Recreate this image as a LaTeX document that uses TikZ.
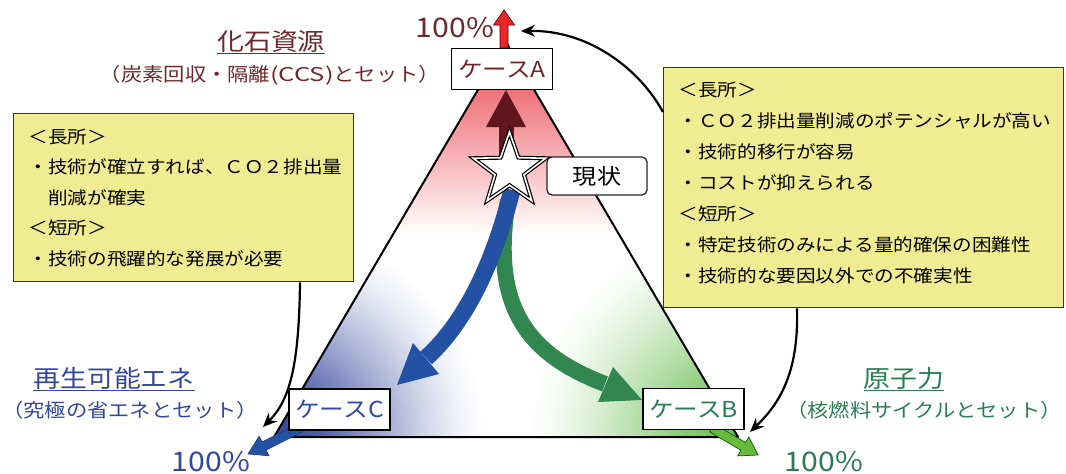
\documentclass[tikz,border=0pt]{standalone}
\usepackage{fontspec}
\setmainfont[FakeStretch=1.12]{Noto Sans CJK JP}
\usetikzlibrary{arrows.meta,shapes.geometric,calc}
\definecolor{fossil}{RGB}{110,40,45}
\definecolor{renew}{RGB}{50,70,160}
\definecolor{nuke}{RGB}{40,125,85}
\definecolor{boxy}{RGB}{240,236,145}
\definecolor{arrA}{RGB}{95,22,28}
\definecolor{arrB}{RGB}{50,135,80}
\definecolor{arrC}{RGB}{35,82,165}
\definecolor{shadeR}{RGB}{235,85,95}
\definecolor{shadeB}{RGB}{45,65,155}
\definecolor{shadeG}{RGB}{105,190,80}
\definecolor{exitR}{RGB}{230,40,40}
\definecolor{exitG}{RGB}{105,185,60}
\pgfdeclareradialshading{glowB}{\pgfpoint{0bp}{0bp}}{color(0bp)=(shadeB); color(6bp)=(shadeB!82!white); color(12bp)=(shadeB!50!white); color(18bp)=(shadeB!22!white); color(22bp)=(shadeB!7!white); color(25bp)=(white); color(50bp)=(white)}
\pgfdeclareradialshading{glowG}{\pgfpoint{0bp}{0bp}}{color(0bp)=(shadeG); color(6bp)=(shadeG!82!white); color(12bp)=(shadeG!50!white); color(18bp)=(shadeG!22!white); color(22bp)=(shadeG!7!white); color(25bp)=(white); color(50bp)=(white)}
\begin{document}
\begin{tikzpicture}[x=1pt,y=-1pt,
  casebox/.style={draw=black, fill=white, line width=1.4pt, minimum width=101pt, minimum height=41pt, inner sep=1pt, font=\fontsize{22}{22}\selectfont},
  notebox/.style={draw=black!80, fill=boxy, line width=1.4pt, anchor=north west, align=left, inner xsep=15pt, inner ysep=0pt},
  conn/.style={black, line width=2.2pt, -{Stealth[length=14pt,width=12pt]}},
  title/.style={font=\fontsize{24}{24}\selectfont},
  subtitle/.style={font=\fontsize{19}{19}\selectfont},
  pct/.style={font=\fontsize{27}{27}\selectfont},
]
\useasboundingbox (0,0) rectangle (1066,474);

% triangle with shading
\coordinate (apex) at (506,42);
\coordinate (bl) at (274,437);
\coordinate (br) at (738,437);
\fill[white] (apex)--(bl)--(br)--cycle;
\begin{scope}
  \clip (apex)--(bl)--(br)--cycle;
  \shade[top color=shadeR, bottom color=white, blend mode=multiply] (260,60) rectangle (760,235);
  \shade[shading=glowB, blend mode=multiply] (bl) circle[radius=210pt];
  \shade[shading=glowG, blend mode=multiply] (br) circle[radius=210pt];
\end{scope}
\draw[line width=2pt, line join=round] (apex)--(bl)--(br)--cycle;

% exit arrows
\filldraw[fill=exitR, draw=black!60!red, line width=0.7pt] (500,48)--(500,25)--(493.5,25)--(504,10)--(514.5,25)--(508,25)--(508,48)--cycle;
\filldraw[fill=arrC, draw=arrC!70!black, line width=0.6pt] (298.0,424.0)--(262.1,441.9)--(259.2,436.1)--(248,454)--(269.0,455.8)--(266.1,450.0)--(302.0,432.0)--cycle;
\filldraw[fill=exitG, draw=black!60!green, line width=0.7pt] (714.3,424.1)--(745.6,442.5)--(748.9,436.9)--(758,455)--(737.7,455.9)--(741.0,450.3)--(709.7,431.9)--cycle;

% main arrows
\coordinate (gs) at (508,200);
\coordinate (gb) at (605,384);
\draw[arrB, line width=16pt] (gs) .. controls (490,310) and (530,355) .. (gb);
\fill[arrB] (642,400) -- (613,367) -- (598,402) -- cycle;
\coordinate (bs) at (512,190);
\coordinate (bb) at (426,358);
\draw[arrC, line width=17pt] (bs) .. controls (494,262) and (466,322) .. (bb);
\fill[arrC] (397,385) -- (413,343) -- (439,374) -- cycle;
\coordinate (as) at (506,165);
\coordinate (ab) at (506,126);
\draw[arrA, line width=15pt] (as) -- (ab);
\fill[arrA] (506,90) -- (486,127) -- (526,127) -- cycle;

% star
\node[star, star points=5, star point ratio=2.5, minimum size=76pt, inner sep=0pt, fill=white, draw=black, line width=1.2pt, double=white, double distance=1.6pt] (star) at (509.5,170) {};

% case boxes
\node[casebox, text=fossil] (caseA) at (502,69) {ケースA};
\node[casebox, text=renew] (caseC) at (339.5,409.5) {ケースC};
\node[casebox, text=nuke] (caseB) at (693.5,409) {ケースB};
\node[draw=black!85, fill=white, rounded corners=5pt, line width=1.3pt, minimum width=100pt, minimum height=38pt, font=\fontsize{21.5}{21.5}\selectfont] (now) at (597,176) {現状};

% note boxes
\node[notebox, text width=310pt, minimum height=168pt, font=\fontsize{17.5}{30.5}\selectfont] (lbox) at (13,113)
  {＜長所＞\\・技術が確立すれば、ＣＯ２排出量\\　削減が確実\\＜短所＞\\・技術の飛躍的な発展が必要};
\node[notebox, text width=370pt, minimum height=240pt, font=\fontsize{17.5}{31}\selectfont] (rbox) at (663,67)
  {＜長所＞\\・ＣＯ２排出量削減のポテンシャルが高い\\・技術的移行が容易\\・コストが抑えられる\\＜短所＞\\・特定技術のみによる量的確保の困難性\\・技術的な要因以外での不確実性\\[-20pt]\mbox{}};

% connectors
\coordinate (tipA) at (521,31);
\coordinate (tipB) at (750,432);
\coordinate (tipC) at (263,427);
\draw[conn] ($(rbox.north west)+(0,45)$) .. controls (640,70) and (590,30) .. (tipA);
\draw[conn] ($(rbox.south west)+(134,0)$) .. controls (799,375) and (778,405) .. (tipB);
\draw[conn] ($(lbox.south west)+(287,0)$) .. controls (299,365) and (290,400) .. (tipC);

% titles
\node[title, text=fossil] (fossilT) at (271,42) {\underline{化石資源}};
\node[subtitle, text=fossil] (fossilS) at (270,75) {（炭素回収・隔離\scalebox{1.2}[1]{(CCS)}とセット）};
\node[title, text=renew] (renewT) at (114,379) {\underline{再生可能エネ}};
\node[subtitle, text=renew] (renewS) at (130,410) {（究極の省エネとセット）};
\node[title, text=nuke] (nukeT) at (904,379) {\underline{原子力}};
\node[subtitle, text=nuke] (nukeS) at (924,410) {（核燃料サイクルとセット）};

% percentages
\node[pct, text=fossil] (pA) at (455,28) {100\%};
\node[pct, text=renew] (pC) at (211,462) {100\%};
\node[pct, text=nuke] (pB) at (824,462) {100\%};
\end{tikzpicture}
\end{document}
